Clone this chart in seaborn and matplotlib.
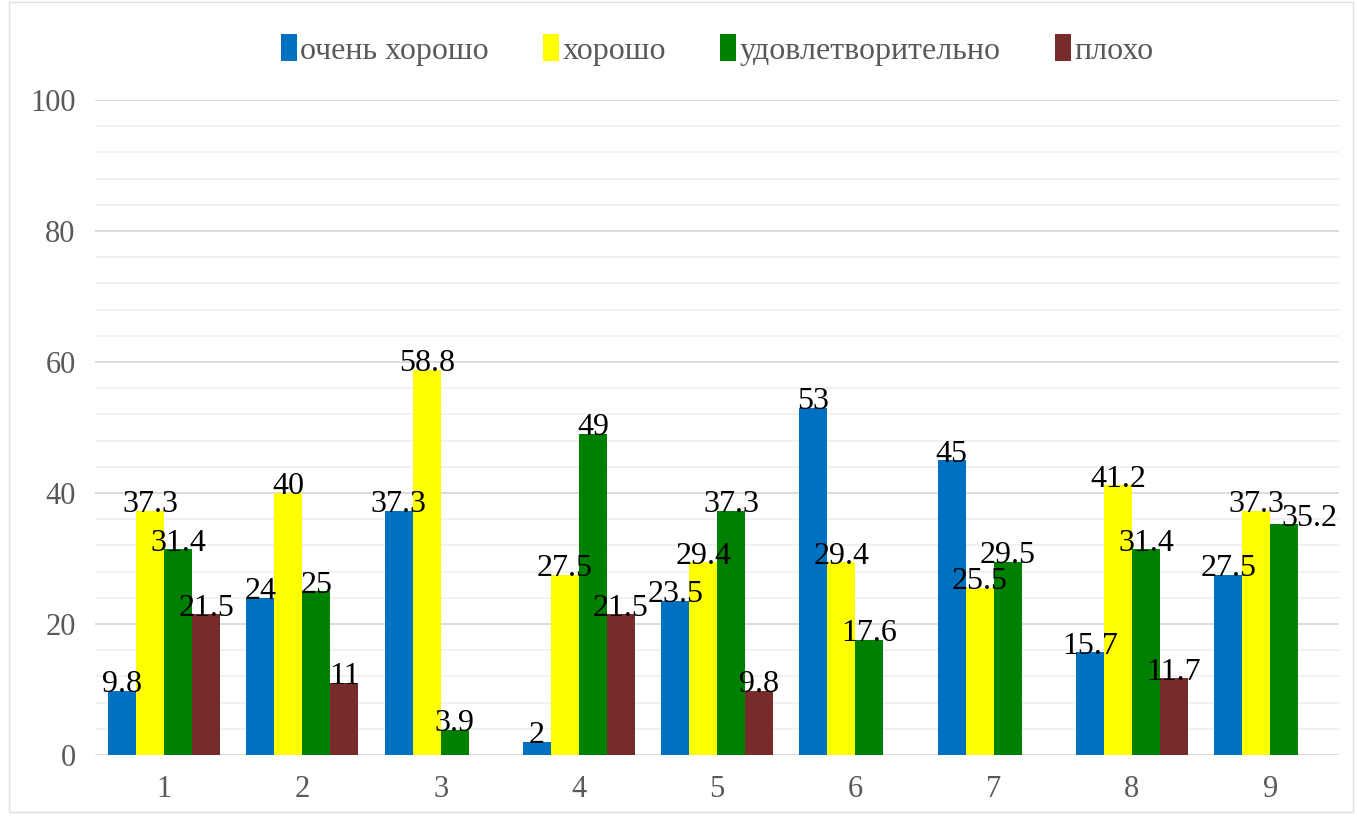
import pandas as pd
import matplotlib.pyplot as plt
import seaborn as sns
from matplotlib.ticker import MultipleLocator
from matplotlib.patches import Rectangle

# Данные
groups = ["1", "2", "3", "4", "5", "6", "7", "8", "9"]
series = ["очень хорошо", "хорошо", "удовлетворительно", "плохо"]
ochen_horosho = [9.8, 24, 37.3, 2, 23.5, 53, 45, 15.7, 27.5]
horosho = [37.3, 40, 58.8, 27.5, 29.4, 29.4, 25.5, 41.2, 37.3]
udovl = [31.4, 25, 3.9, 49, 37.3, 17.6, 29.5, 31.4, 35.2]
ploho = [21.5, 11, 0, 21.5, 9.8, 0, 0, 11.7, 0]
colors = ["#0070C0", "#FFFF00", "#008000", "#772B2B"]

values = [ochen_horosho, horosho, udovl, ploho]
rows = []
for name, vals in zip(series, values):
    for g, v in zip(groups, vals):
        rows.append({"group": g, "series": name, "value": v})
df = pd.DataFrame(rows)

sns.set_style("white")
plt.rcParams["font.family"] = ["Liberation Serif", "DejaVu Serif"]

fig = plt.figure(figsize=(13.57, 8.19), dpi=100)
ax = fig.add_axes([0.07, 0.078, 0.917, 0.80])

sns.barplot(data=df, x="group", y="value", hue="series", hue_order=series,
            palette=colors, width=0.81, saturation=1, ax=ax, errorbar=None,
            linewidth=0, edgecolor="none")

# Подписи значений
for i, (cont, vals) in enumerate(zip(ax.containers, values)):
    labels = [f"{v:g}" if v > 0 else "" for v in vals]
    anns = ax.bar_label(cont, labels=labels, padding=-6, fontsize=23, color="black")
    if i == 2:
        # сдвиг подписи 35.2, чтобы не наезжала на 37.3
        anns[8].xyann = (18, anns[8].xyann[1])

ax.set_ylim(0, 100)
ax.yaxis.set_major_locator(MultipleLocator(20))
ax.yaxis.set_minor_locator(MultipleLocator(4))
ax.grid(axis="y", which="major", color="#D9D9D9", linewidth=1.3)
ax.grid(axis="y", which="minor", color="#F0F0F0", linewidth=1.3)
ax.set_axisbelow(True)
for s in ax.spines.values():
    s.set_visible(False)
ax.tick_params(axis="both", which="both", length=0, labelsize=22,
               labelcolor="#595959", pad=14)
ax.set_xlabel("")
ax.set_ylabel("")

ax.legend(loc="center", bbox_to_anchor=(0.5, 1.076), ncol=4, frameon=False,
          fontsize=23, handlelength=0.5, handleheight=0.9, handletextpad=0.1,
          columnspacing=1.7, labelcolor="#595959")

fig.patches.append(Rectangle((0.007, 0.008), 0.99, 0.99, transform=fig.transFigure,
                             fill=False, edgecolor="#E0E0E0", linewidth=1))

plt.savefig("out.png", dpi=100)
